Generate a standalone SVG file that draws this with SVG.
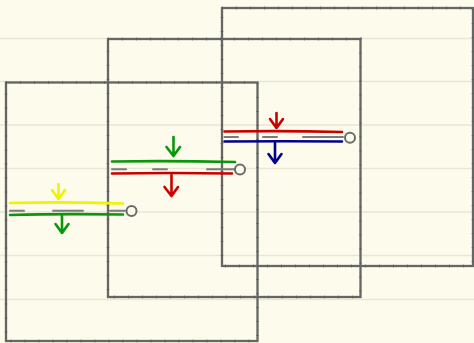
<svg xmlns="http://www.w3.org/2000/svg" width="474" height="343" viewBox="0 0 474 343">
<style>
.grid{stroke:#e9e6d3;stroke-width:1.5;fill:none}
.frame{fill:none;stroke:#666;stroke-width:2.3}
.tick{fill:none;stroke:#555;stroke-width:2.8;stroke-dasharray:1 13;opacity:0.6}
.ln{fill:none;stroke-width:2.6;stroke-linecap:round;stroke-linejoin:round}
.g{stroke:#7a7a7a;stroke-width:2;fill:none;stroke-linecap:round}
.knob{fill:#fdfbeb;stroke:#6a6a6a;stroke-width:2}
.y{stroke:#f2f200}.gr{stroke:#0a960a}.r{stroke:#c80000}.b{stroke:#00008c}
</style>
<rect width="474" height="343" fill="#fdfbeb"/>
<g id="grid">
<path class="grid" d="M0 38.5H474M0 81.5H474M0 125H474M0 168.5H474M0 212H474M0 255.5H474M0 299.5H474"/>
</g>
<g id="frame1">
<rect class="frame" x="6" y="82.5" width="251.5" height="258.5"/>
<rect class="tick" x="6" y="82.5" width="251.5" height="258.5"/>
</g>
<g id="frame2">
<rect class="frame" x="108" y="39" width="252.5" height="258"/>
<rect class="tick" x="108" y="39" width="252.5" height="258"/>
</g>
<g id="frame3">
<rect class="frame" x="222" y="8" width="251" height="258"/>
<rect class="tick" x="222" y="8" width="251" height="258"/>
</g>
<g id="handle1">
<path class="ln y" d="M10 203 Q60 201.5 123 203.5"/>
<path class="ln y" d="M58.5 184 L58.5 199 M52 190 L58.5 199 L65 190"/>
<path class="g" d="M10 210.7H24M53 210.7H83M110 210.7H125"/>
<circle class="knob" cx="131.5" cy="211" r="5"/>
<path class="ln gr" d="M10 215 Q60 213.5 123 214.5"/>
<path class="ln gr" d="M62 216 L62 233 M55.5 224 L62 233 L68.5 224"/>
</g>
<g id="handle2">
<path class="ln gr" d="M112 161.5 Q170 160.5 235 162"/>
<path class="ln gr" d="M173.5 137 L173.5 156 M166.5 147 L173.5 156 L180 147"/>
<path class="g" d="M112 169.3H126M153 169.3H167M207 169.3H235"/>
<circle class="knob" cx="240" cy="169.5" r="5"/>
<path class="ln r" d="M112 173.5 Q170 172.5 232 173.5"/>
<path class="ln r" d="M171.5 175 L171.5 196 M164.5 187 L171.5 196 L178 187"/>
</g>
<g id="handle3">
<path class="ln r" d="M224.5 131.5 Q285 130.5 342 132"/>
<path class="ln r" d="M276.5 113 L276.5 128 M270 119 L276.5 128 L283 119"/>
<path class="g" d="M224.5 137H238M263 137H277M303 137H343"/>
<circle class="knob" cx="350" cy="137.7" r="5"/>
<path class="ln b" d="M224.5 141.5 Q285 141 342 141.5"/>
<path class="ln b" d="M275 143 L275 163 M268.5 154 L275 163 L281.5 154"/>
</g>
</svg>
